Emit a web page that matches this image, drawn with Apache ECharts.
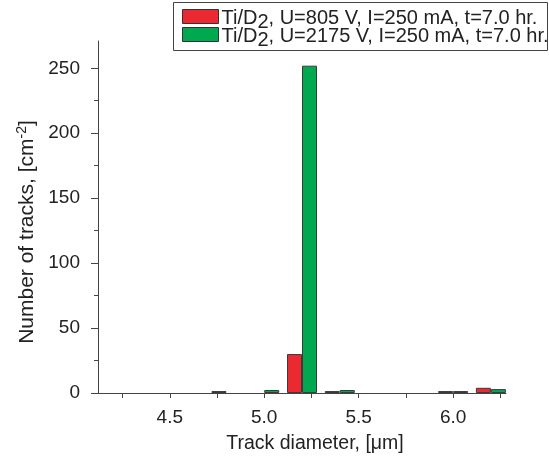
<!DOCTYPE html>
<html>
<head>
<meta charset="utf-8">
<script src="https://cdn.jsdelivr.net/npm/echarts@6/dist/echarts.min.js"></script>
<style>
html,body{margin:0;padding:0;background:#fff;}
#chart{width:549px;height:466px;}
</style>
</head>
<body>
<div id="chart"></div>
<script>
// Data (null = no bar in that bin)
const diameters = [4.8, 5.0, 5.2, 5.4, 6.0, 6.2];
const tracksLowU = [1.5, null, 30, 1.5, 1.5, 4];      // Ti/D2, U=805 V
const tracksHighU = [null, 2.3, 252, 2.3, 1.5, 3];    // Ti/D2, U=2175 V
const seriesNames = ['Ti/D{sub|2}, U=805 V, I=250 mA, t=7.0 hr.', 'Ti/D{sub|2}, U=2175 V, I=250 mA, t=7.0 hr.'];
const xMajorTicks = [4.5, 5.0, 5.5, 6.0];
const xAllTicks = [4.25, 4.5, 4.75, 5.0, 5.25, 5.5, 5.75, 6.0, 6.25];
const yMajorTicks = [0, 50, 100, 150, 200, 250];
const yMinorTicks = [25, 75, 125, 175, 225];

const FONT = '"Liberation Sans", Arial, Helvetica, sans-serif';
const TXT = '#222';
const LINE = '#444';
const FS = 19;
const FS_LEG = 20;

const chart = echarts.init(document.getElementById('chart'), null, {renderer: 'canvas'});

function pairs(xs, ys) { return xs.map((x, i) => [x, ys[i] == null ? '-' : ys[i]]); }

const option = {
  animation: false,
  backgroundColor: '#fff',
  textStyle: {fontFamily: FONT},
  grid: {left: 98, right: 43, top: 41, bottom: 73, containLabel: false},
  graphic: [{
    type: 'rect',
    shape: {x: 173.5, y: 2.5, width: 374, height: 48},
    style: {fill: 'none', stroke: LINE, lineWidth: 1},
    z: 10
  }],
  legend: {
    orient: 'vertical',
    left: 182, top: 8,
    padding: 0,
    itemWidth: 36, itemHeight: 14, itemGap: -6,
    icon: 'rect',
    data: seriesNames,
    formatter: function (name) { return name; },
    textStyle: {
      fontFamily: FONT, fontSize: FS_LEG, color: TXT, padding: [3, 0, 0, -2],
      rich: {sub: {fontFamily: FONT, fontSize: FS_LEG, color: TXT, padding: [8, 0, 0, 0]}}
    },
    itemStyle: {borderColor: '#333', borderWidth: 1}
  },
  xAxis: {
    type: 'value', min: 4.12, max: 6.28,
    name: 'Track diameter, [μm]',
    nameLocation: 'middle', nameGap: 41,
    nameTextStyle: {fontFamily: FONT, fontSize: 19.5, color: TXT, padding: [0, 0, 0, 26]},
    axisLine: {show: true, lineStyle: {color: LINE, width: 1}},
    axisTick: {show: true, length: 5, inside: false, customValues: xAllTicks, lineStyle: {color: LINE}},
    axisLabel: {customValues: xMajorTicks, margin: 15, fontFamily: FONT, fontSize: FS, color: TXT,
      formatter: v => Number(v).toFixed(1)},
    splitLine: {show: false}
  },
  yAxis: [{
    type: 'value', min: 0, max: 271,
    name: 'Number of tracks, [cm{sup|-2}]',
    nameLocation: 'middle', nameGap: 57, nameRotate: 90,
    nameTextStyle: {fontFamily: FONT, fontSize: 21, color: TXT, padding: [0, 30, 0, 0],
      rich: {sup: {fontFamily: FONT, fontSize: 14, color: TXT, padding: [0, 0, 9, 0]}}},
    axisLine: {show: true, lineStyle: {color: LINE, width: 1}},
    axisTick: {show: true, length: 7, customValues: yMajorTicks, lineStyle: {color: LINE}},
    axisLabel: {customValues: yMajorTicks, margin: 18, fontFamily: FONT, fontSize: FS, color: TXT},
    splitLine: {show: false}
  }, {
    type: 'value', min: 0, max: 271, position: 'left', offset: 0,
    axisLine: {show: false},
    axisTick: {show: true, length: 4, customValues: yMinorTicks, lineStyle: {color: LINE}},
    axisLabel: {show: false},
    splitLine: {show: false}
  }],
  series: [{
    name: seriesNames[0], type: 'bar', xAxisIndex: 0, yAxisIndex: 0,
    data: pairs(diameters, tracksLowU),
    barWidth: 15, barGap: '0%',
    itemStyle: {color: '#ea2a30', borderColor: '#3a3a3a', borderWidth: 1}
  }, {
    name: seriesNames[1], type: 'bar', xAxisIndex: 0, yAxisIndex: 0,
    data: pairs(diameters, tracksHighU),
    barWidth: 15, barGap: '0%',
    itemStyle: {color: '#00a84f', borderColor: '#3a3a3a', borderWidth: 1}
  }]
};
chart.setOption(option);
</script>
</body>
</html>
